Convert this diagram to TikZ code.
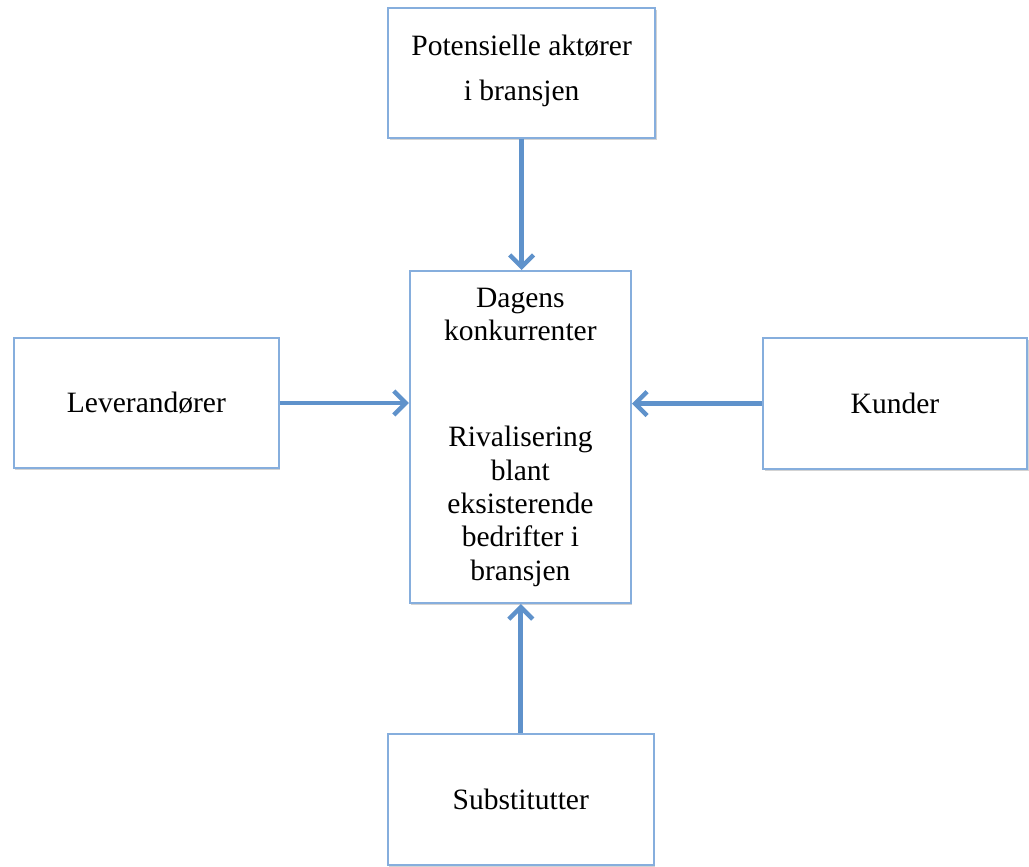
\documentclass[tikz,border=0pt]{standalone}
\usepackage{fontspec}
\setmainfont{Liberation Serif}
\usetikzlibrary{arrows.meta,shadows}
\definecolor{boxblue}{HTML}{86AEDD}
\definecolor{arrblue}{HTML}{5F92CB}
\tikzset{
    box/.style={draw=boxblue,line width=1.4pt,fill=white,align=center,
        font=\fontsize{21}{23.7}\selectfont,inner sep=0pt,
        drop shadow={opacity=0.35,shadow xshift=1.1pt,shadow yshift=-1.1pt}},
    arr/.style={arrblue,line width=3.5pt,-{Straight Barb[length=8.5pt,width=17pt,line width=3.2pt]}}
}
\begin{document}
\begin{tikzpicture}
    \useasboundingbox (0,0) rectangle (25.725,-21.65);
    \node[box,minimum width=6.675cm,minimum height=3.25cm,font=\fontsize{21}{32}\selectfont] (pot) at (13.04,-1.825) {Potensielle aktører\\i bransjen\\[-25pt]};
    \node[box,minimum width=5.525cm,minimum height=8.3cm] (dag) at (13.01,-10.925) {Dagens\\konkurrenter\\[52pt]Rivalisering\\blant\\eksisterende\\bedrifter i\\bransjen};
    \node[box,minimum width=6.625cm,minimum height=3.25cm] (lev) at (3.66,-10.075) {Leverandører};
    \node[box,minimum width=6.6cm,minimum height=3.275cm] (kun) at (22.375,-10.09) {Kunder};
    \node[box,minimum width=6.65cm,minimum height=3.275cm] (sub) at (13.02,-19.99) {Substitutter};
    \draw[arr] (pot.south) -- (pot.south |- dag.north);
    \draw[arr] (lev.east) -- (lev.east -| dag.west);
    \draw[arr] (kun.west) -- (kun.west -| dag.east);
    \draw[arr] (sub.north) -- (sub.north |- dag.south);
\end{tikzpicture}
\end{document}
